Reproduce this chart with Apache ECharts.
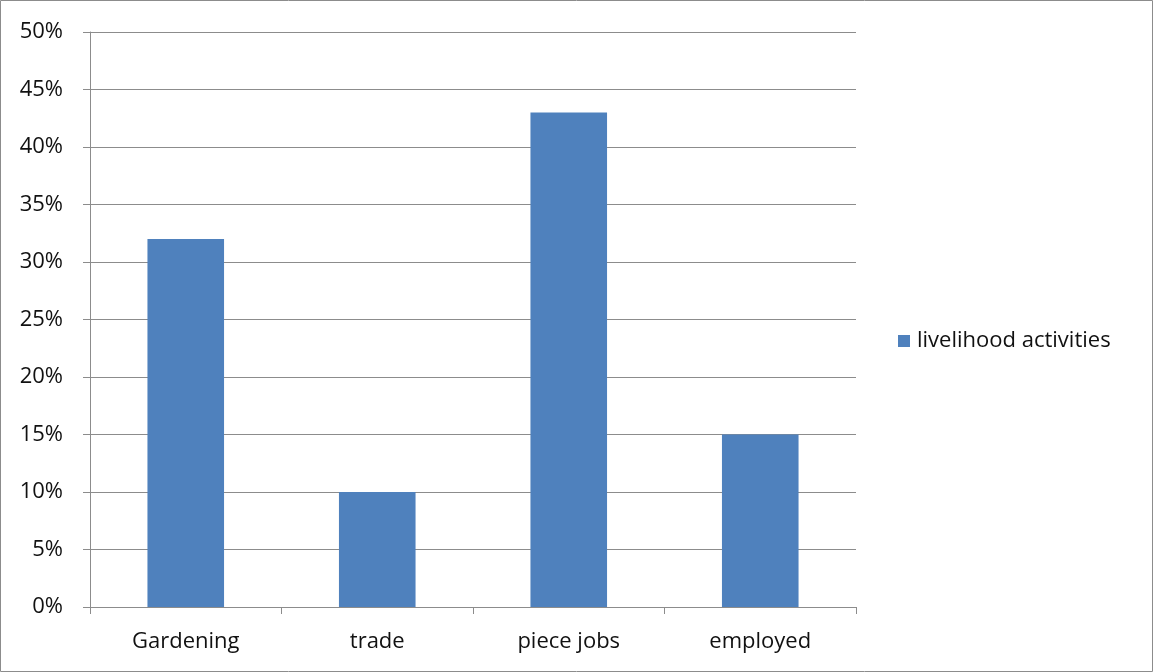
<!DOCTYPE html>
<html>
<head>
<meta charset="utf-8">
<script src="https://cdn.jsdelivr.net/npm/echarts@6/dist/echarts.min.js"></script>
<style>
  html, body { margin: 0; padding: 0; background: #fff; }
  #chart { width: 1153px; height: 672px; }
</style>
</head>
<body>
<div id="chart"></div>
<script>
// Share of respondents by main livelihood activity
const categories = ['Gardening', 'trade', 'piece jobs', 'employed'];
const seriesName = 'livelihood activities';
const shares = [32, 10, 43, 15];

const chart = echarts.init(document.getElementById('chart'));
const font = '"Open Sans", "Liberation Sans", sans-serif';

chart.setOption({
  animation: false,
  textStyle: { fontFamily: font },
  graphic: [{
    type: 'rect',
    shape: { x: 0.5, y: 0.5, width: 1152, height: 671 },
    style: { fill: 'none', stroke: '#8c8c8c', lineWidth: 1 },
    silent: true
  }],
  grid: { left: 90, right: 297, top: 32, bottom: 65, containLabel: false },
  legend: {
    data: [seriesName],
    left: 893,
    top: 325,
    itemWidth: 12,
    itemHeight: 12,
    itemGap: 6,
    icon: 'rect',
    textStyle: { fontSize: 22, color: '#111', fontFamily: font, padding: [0, 0, 0, 2] }
  },
  xAxis: {
    type: 'category',
    data: categories,
    boundaryGap: true,
    axisLine: { lineStyle: { color: '#8c8c8c', width: 1 } },
    axisTick: { show: true, alignWithLabel: false, length: 7, lineStyle: { color: '#8c8c8c' } },
    axisLabel: { fontSize: 22, color: '#111', margin: 24 },
    splitLine: { show: false }
  },
  yAxis: {
    type: 'value',
    min: 0,
    max: 50,
    interval: 5,
    axisLine: { show: true, lineStyle: { color: '#8c8c8c', width: 1 } },
    axisTick: { show: true, length: 7, lineStyle: { color: '#8c8c8c' } },
    axisLabel: { fontSize: 22, color: '#111', margin: 27, formatter: '{value}%' },
    splitLine: { show: true, lineStyle: { color: '#8c8c8c', width: 1 } }
  },
  series: [{
    name: seriesName,
    type: 'bar',
    data: shares,
    barWidth: '40%',
    itemStyle: { color: '#4f81bd' }
  }]
});
</script>
</body>
</html>
